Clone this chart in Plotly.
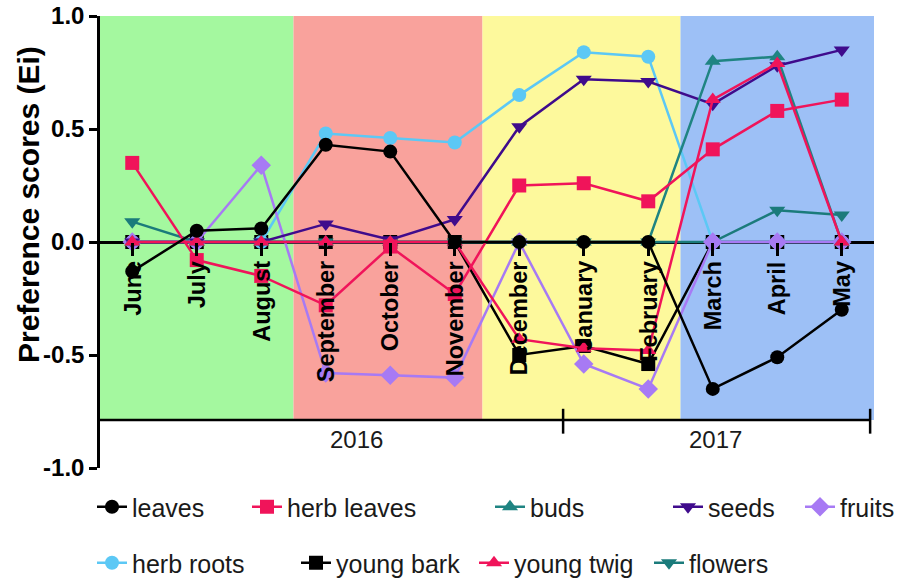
import plotly.graph_objects as go

# Monthly preference scores (Ei), June 2016 - May 2017
months = ["June", "July", "August", "September", "October", "November",
          "December", "January", "February", "March", "April", "May"]

leaves      = [-0.13, 0.05, 0.06, 0.43, 0.40, 0.00, 0.00, 0.00, 0.00, -0.65, -0.51, -0.30]
herb_leaves = [0.35, -0.08, -0.15, -0.28, -0.02, -0.23, 0.25, 0.26, 0.18, 0.41, 0.58, 0.63]
buds        = [0.00, 0.00, 0.00, 0.00, 0.00, 0.00, 0.00, 0.00, 0.00, 0.80, 0.82, 0.00]
seeds       = [0.00, 0.00, 0.00, 0.08, 0.01, 0.10, 0.51, 0.72, 0.71, 0.61, 0.78, 0.85]
fruits      = [0.00, 0.00, 0.34, -0.58, -0.59, -0.60, 0.00, -0.54, -0.65, 0.00, 0.00, 0.00]
herb_roots  = [0.00, 0.00, 0.00, 0.48, 0.46, 0.44, 0.65, 0.84, 0.82, 0.00, 0.00, 0.00]
young_bark  = [0.00, 0.00, 0.00, 0.00, 0.00, 0.00, -0.50, -0.46, -0.54, 0.00, 0.00, 0.00]
young_twig  = [0.00, 0.00, 0.00, 0.00, 0.00, 0.00, -0.43, -0.47, -0.48, 0.63, 0.79, 0.00]
flowers     = [0.09, 0.00, 0.00, 0.00, 0.00, 0.00, 0.00, 0.00, 0.00, 0.00, 0.14, 0.12]

years = ["2016", "2017"]
y_ticks = [-1.0, -0.5, 0.0, 0.5, 1.0]

FONT = "Liberation Sans, Arial, sans-serif"
W, H = 897, 582
ML, MR, MT, MB = 100, 23, 16, 114
PW, PH = W - ML - MR, H - MT - MB

# Season bands (in month-index units) and the floor of the coloured area
seasons = [(-0.5, 2.5, "#a4f89f"), (2.5, 5.43, "#f9a29c"),
           (5.43, 8.5, "#fdf99c"), (8.5, 11.5, "#9dc0f6")]
band_floor = -0.788
year_edges = [-0.5, 6.68, 11.44]

x = list(range(len(months)))

# name, values, colour, symbol, legend id, legend item left edge (px), row centre (px)
series = [
    ("young bark", young_bark, "#000000", "square", "legend7", 296, 563),
    ("herb roots", herb_roots, "#5cc8f5", "circle", "legend6", 92, 563),
    ("flowers", flowers, "#1b7b7b", "triangle-down", "legend9", 649, 563),
    ("fruits", fruits, "#a77af4", "diamond", "legend5", 800, 507),
    ("seeds", seeds, "#3f0b8c", "triangle-down", "legend4", 668, 507),
    ("buds", buds, "#1f8482", "triangle-up", "legend3", 490, 507),
    ("young twig", young_twig, "#f0145a", "triangle-up", "legend8", 474, 563),
    ("herb leaves", herb_leaves, "#f0145a", "square", "legend2", 247, 507),
    ("leaves", leaves, "#000000", "circle", "legend", 92, 507),
]

fig = go.Figure()
legend_layout = {}
for name, vals, col, sym, leg, lx, ly in series:
    fig.add_trace(go.Scatter(
        x=x, y=vals, name=name, mode="lines+markers",
        line=dict(color=col, width=2.5),
        marker=dict(symbol=sym, size=14 if sym != "diamond" else 15, color=col),
        legend=leg, showlegend=True, cliponaxis=False,
    ))
    legend_layout[leg] = dict(
        x=(lx - ML) / PW, y=(H - MB - ly) / PH, xanchor="left", yanchor="middle",
        orientation="h", bgcolor="rgba(0,0,0,0)", borderwidth=0,
        font=dict(family=FONT, size=25, color="#1a1a1a"),
        itemwidth=30, tracegroupgap=0,
    )

shapes = []
for x0, x1, col in seasons:
    shapes.append(dict(type="rect", xref="x", yref="y", x0=x0, x1=x1,
                       y0=band_floor, y1=1.0, fillcolor=col, line_width=0,
                       layer="below"))
# year axis line with crossing ticks
shapes.append(dict(type="line", xref="x", yref="y", x0=year_edges[0], x1=year_edges[-1],
                   y0=band_floor, y1=band_floor, line=dict(color="black", width=2.5)))
for xe in year_edges[1:]:
    shapes.append(dict(type="line", xref="x", yref="y", x0=xe, x1=xe,
                       y0=band_floor + 0.05, y1=band_floor - 0.06,
                       line=dict(color="black", width=2.5)))

annotations = []
for i, m in enumerate(months):
    annotations.append(dict(x=i, y=0, xref="x", yref="y", text="<b>%s</b>" % m,
                            textangle=-90, showarrow=False, xanchor="center",
                            yanchor="top", yshift=-17,
                            font=dict(family=FONT, size=23.5, color="black")))
year_pos = [(356 - ML) / PW * 12 - 0.5, (715 - ML) / PW * 12 - 0.5]
for xp, yr in zip(year_pos, years):
    annotations.append(dict(x=xp, y=band_floor, xref="x", yref="y", text=yr,
                            showarrow=False, xanchor="center", yanchor="top",
                            yshift=-4, font=dict(family=FONT, size=24, color="#1a1a1a")))
annotations.append(dict(x=(28 - ML) / PW, y=(H - MB - 205) / PH, xref="paper", yref="paper",
                        text="<b>Preference scores (Ei)</b>", textangle=-90,
                        showarrow=False, xanchor="center", yanchor="middle",
                        font=dict(family=FONT, size=30, color="black")))

fig.update_layout(
    width=W, height=H,
    margin=dict(l=ML, r=MR, t=MT, b=MB, pad=0, autoexpand=False),
    paper_bgcolor="white", plot_bgcolor="white",
    shapes=shapes, annotations=annotations,
    xaxis=dict(range=[-0.5, 11.5], showgrid=False, zeroline=False, showline=False,
               showticklabels=False, ticks=""),
    xaxis2=dict(range=[-0.5, 11.5], overlaying="x", anchor="free", position=0.5,
                tickvals=x, ticks="outside", ticklen=13, tickwidth=2.5,
                tickcolor="black", showticklabels=False, showgrid=False,
                zeroline=False, showline=False),
    yaxis=dict(range=[-1, 1], tickvals=y_ticks,
               ticktext=["<b>%.1f</b>" % v for v in y_ticks],
               ticks="outside", ticklen=8, tickwidth=2.5, tickcolor="black",
               showline=True, linecolor="black", linewidth=2.5,
               showgrid=False, zeroline=True, zerolinecolor="black", zerolinewidth=2.5,
               tickfont=dict(family=FONT, size=24, color="black")),
    **legend_layout,
)
# invisible trace to bring the overlaying tick axis into view
fig.add_trace(go.Scatter(x=[0], y=[0], xaxis="x2", mode="markers",
                         marker=dict(opacity=0), showlegend=False, hoverinfo="skip"))

fig.write_html("out.html")
